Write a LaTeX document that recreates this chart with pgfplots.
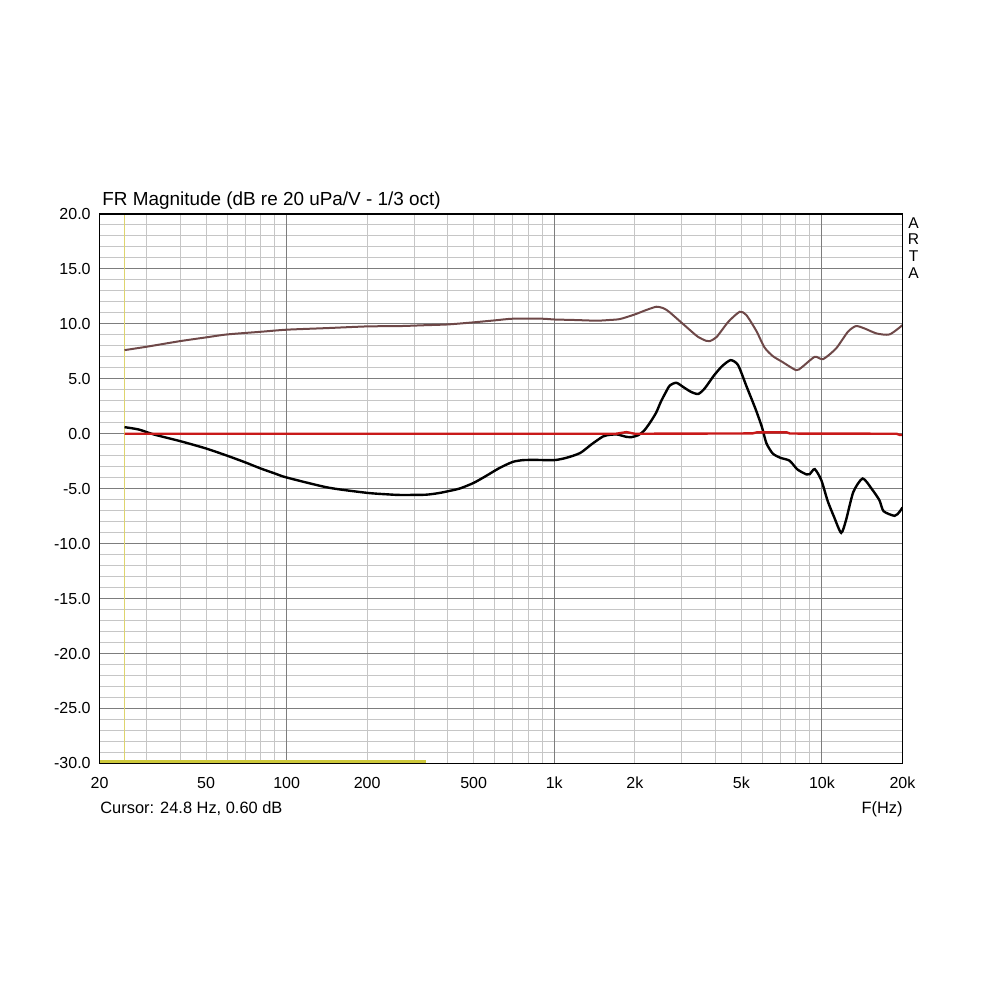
\documentclass[border=0pt]{standalone}
\usepackage{pgfplots}
\pgfplotsset{compat=1.18}
\usepackage{fontspec}
\setmainfont{Liberation Sans}
\definecolor{brownc}{RGB}{110,72,72}
\definecolor{redc}{RGB}{200,25,25}
\definecolor{ylw}{RGB}{205,200,60}
\definecolor{ylwv}{RGB}{222,212,110}
\definecolor{mingrid}{RGB}{198,198,198}
\definecolor{majgrid}{RGB}{125,125,125}
\begin{document}
\begin{tikzpicture}
\path[use as bounding box] (0,0) rectangle (500pt,500pt);
\begin{axis}[
  name=ax,
  at={(49.75pt,118.3pt)}, anchor=south west,
  scale only axis, width=401.5pt, height=274.7pt,
  xmode=log, xmin=20, xmax=20000, ymin=-30, ymax=20,
  xtick={20,50,100,200,500,1000,2000,5000,10000,20000},
  xticklabels={20,50,100,200,500,1k,2k,5k,10k,20k},
  minor xtick={30,40,50,60,70,80,90,200,300,400,500,600,700,800,900,2000,3000,4000,5000,6000,7000,8000,9000},
  xmajorgrids=false, xminorgrids=true,
  extra x ticks={100,1000,10000},
  extra x tick labels={},
  extra x tick style={grid=major},
  ytick={-30,-25,...,20},
  yticklabels={-30.0,-25.0,-20.0,-15.0,-10.0,-5.0,0.0,5.0,10.0,15.0,20.0},
  minor y tick num=4,
  ymajorgrids=true, yminorgrids=true,
  minor grid style={mingrid, line width=0.5pt},
  major grid style={majgrid, line width=0.5pt},
  major tick length=0pt, minor tick length=0pt,
  axis line style={draw=none},
  tick label style={font=\fontsize{8}{9.6}\selectfont},
  xticklabel style={anchor=base, yshift=-12.45pt},
  yticklabel style={anchor=east, xshift=-0.9pt},
]
% cursor lines
\addplot[ylwv, line width=0.7pt] coordinates {(24.8,-30) (24.8,20)};
\addplot[ylw, line width=1.5pt] coordinates {(20,-29.8) (331,-29.8)};
% black curve
\addplot[black, line width=1.2pt, smooth, tension=0.4] coordinates {
(24.8,0.6) (28,0.39) (32,-0.07) (40,-0.67) (50,-1.34) (60,-2.0) (70,-2.6) (80,-3.16) (90,-3.6) (100,-3.98)
(143,-4.9) (200,-5.38) (240,-5.52) (265,-5.57) (330,-5.55) (370,-5.4) (401,-5.23) (444,-4.98) (500,-4.47)
(557,-3.83) (626,-3.1) (700,-2.56) (764,-2.4) (850,-2.38) (1000,-2.4) (1110,-2.19) (1250,-1.75) (1380,-0.95)
(1520,-0.25) (1610,-0.1) (1720,-0.07) (1860,-0.28) (1950,-0.3) (2060,-0.13) (2160,0.25) (2270,0.95)
(2400,1.9) (2500,2.9) (2600,3.7) (2700,4.38) (2860,4.64) (3060,4.19) (3250,3.8) (3450,3.62) (3650,4.13)
(3950,5.3) (4240,6.16) (4560,6.7) (4860,6.25) (5220,4.35) (5660,2.2) (5970,0.6) (6200,-0.85) (6550,-1.8)
(7000,-2.19) (7570,-2.45) (8100,-3.25) (8750,-3.7) (9000,-3.68) (9400,-3.22) (9950,-4.23) (10500,-6.1)
(11100,-7.57) (11800,-9.02) (12300,-7.87) (13100,-5.3) (14200,-4.07) (15400,-5.07) (16400,-6.05)
(17000,-7.05) (18700,-7.47) (19500,-7.1) (20000,-6.7)};
% brown curve
\addplot[brownc, line width=1.0pt, smooth, tension=0.4] coordinates {
(24.8,7.61) (30,7.92) (40,8.43) (50,8.77) (60,9.04) (80,9.28) (100,9.47) (143,9.62) (200,9.77) (265,9.8)
(330,9.88) (401,9.95) (500,10.14) (600,10.32) (700,10.47) (900,10.47) (1000,10.4) (1200,10.35) (1440,10.29)
(1600,10.35) (1760,10.44) (2000,10.86) (2200,11.25) (2410,11.56) (2570,11.4) (2700,11.05) (3060,9.89)
(3430,8.85) (3700,8.45) (3810,8.43) (4040,8.8) (4470,10.19) (4930,11.1) (5220,10.8) (5690,9.35) (6100,7.86)
(6550,7.07) (7100,6.55) (8000,5.79) (8400,6.04) (9400,7.0) (10100,6.79) (11300,7.77) (12500,9.28)
(13400,9.8) (14400,9.59) (16000,9.13) (17900,9.04) (20000,9.89)};
% red curve
\addplot[redc, line width=1.2pt] coordinates {
(24.8,0) (1700,0) (1860,0.15) (2000,0) (5500,0.03) (5700,0.12) (7400,0.12) (7600,0.02) (19000,0)
(19500,-0.1) (20000,-0.12)};
\end{axis}
\draw[black, line width=0.8pt] (ax.south west) rectangle (ax.north east);
\node[anchor=base west, inner sep=0, font=\fontsize{9.45}{11}\selectfont] at (51pt,397pt) {FR Magnitude (dB re 20 uPa/V - 1/3 oct)};
\node[anchor=base west, inner sep=0, font=\fontsize{8.2}{10}\selectfont] at (50pt,93.35pt) {Cursor: 24.8 Hz, 0.60 dB};
\node[anchor=base east, inner sep=0, font=\fontsize{8.2}{10}\selectfont] at (451.5pt,93.35pt) {F(Hz)};
\foreach \l/\yy in {A/385.85, R/377.5, T/369.15, A/360.5}
  \node[anchor=base, inner sep=0, font=\fontsize{7.8}{9}\selectfont] at (456.75pt,\yy pt) {\l};
\end{tikzpicture}
\end{document}
